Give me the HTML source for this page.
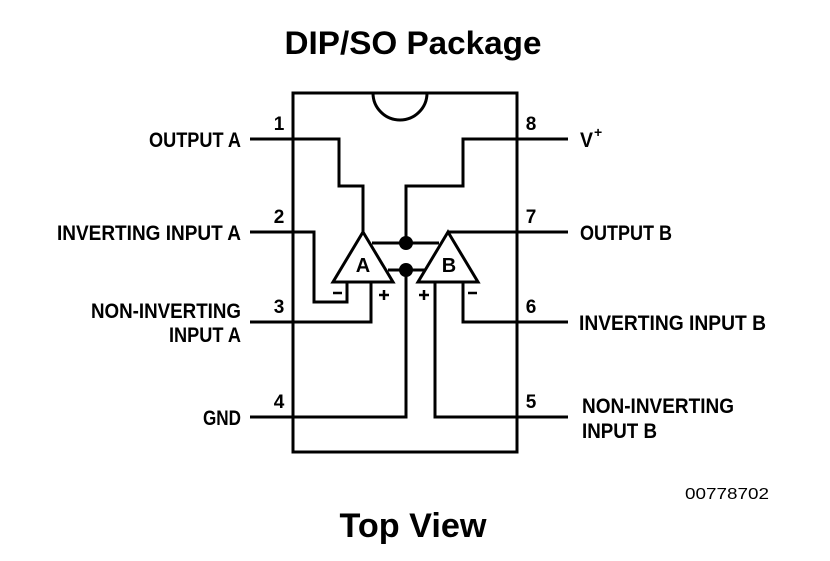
<!DOCTYPE html>
<html><head><style>
html,body{margin:0;padding:0;background:#fff;}
svg{display:block;}
text{font-family:"Liberation Sans",sans-serif;font-weight:bold;fill:#000;}
</style></head><body>
<svg width="830" height="561" viewBox="0 0 830 561" xmlns="http://www.w3.org/2000/svg">
<text x="413" y="54" font-size="32" text-anchor="middle" textLength="257" lengthAdjust="spacingAndGlyphs">DIP/SO Package</text>
<text x="413" y="537" font-size="34" text-anchor="middle" textLength="147" lengthAdjust="spacingAndGlyphs">Top View</text>
<text x="727" y="499" font-size="16" text-anchor="middle" style="font-weight:normal" textLength="84" lengthAdjust="spacingAndGlyphs">00778702</text>
<g fill="none" stroke="#000" stroke-width="3">
<rect x="293" y="93" width="224" height="359"/>
<path d="M373 93 A27 27 0 0 0 427 93"/>
<path d="M250 139H293M250 232H293M250 322H293M250 417H293"/>
<path d="M517 139H568M517 232H568M517 322H568M517 417H568"/>
<path d="M293 139H339V186H363V232"/>
<path d="M517 139H463V186H406V243"/>
<path d="M372 243H439"/>
<path d="M388 270H425"/>
<path d="M406 270V417H293"/>
<path d="M293 232H314V302H347V282"/>
<path d="M293 322H371V282"/>
<path d="M435 282V417H517"/>
<path d="M463 282V322H517"/>
<path d="M448 232H517"/>
<polygon points="363,232 333,282 393,282" fill="#fff"/>
<polygon points="448,232 418,282 478,282" fill="#fff"/>
</g>
<circle cx="406" cy="243" r="7"/>
<circle cx="406" cy="270" r="7"/>
<text x="363" y="272" font-size="20" text-anchor="middle">A</text>
<text x="449" y="272" font-size="20" text-anchor="middle">B</text>
<g stroke="#000" stroke-width="2.5">
<path d="M333 293h9M468 293h9M379 295h10M384 290v10M419 295h10M424 290v10"/>
</g>
<g font-size="21">
<text x="241" y="147" text-anchor="end" textLength="92" lengthAdjust="spacingAndGlyphs">OUTPUT A</text>
<text x="241" y="240" text-anchor="end" textLength="184" lengthAdjust="spacingAndGlyphs">INVERTING INPUT A</text>
<text x="241" y="318" text-anchor="end" textLength="150" lengthAdjust="spacingAndGlyphs">NON-INVERTING</text>
<text x="241" y="342" text-anchor="end" textLength="72" lengthAdjust="spacingAndGlyphs">INPUT A</text>
<text x="241" y="425" text-anchor="end" textLength="38" lengthAdjust="spacingAndGlyphs">GND</text>
<text x="580" y="147" textLength="13" lengthAdjust="spacingAndGlyphs">V</text>
<text x="594" y="137" font-size="14">+</text>
<text x="580" y="240" textLength="92" lengthAdjust="spacingAndGlyphs">OUTPUT B</text>
<text x="579" y="330" textLength="187" lengthAdjust="spacingAndGlyphs">INVERTING INPUT B</text>
<text x="582" y="413" textLength="152" lengthAdjust="spacingAndGlyphs">NON-INVERTING</text>
<text x="582" y="438" textLength="75" lengthAdjust="spacingAndGlyphs">INPUT B</text>
<text x="279" y="130" text-anchor="middle" font-size="19">1</text>
<text x="279" y="223" text-anchor="middle" font-size="19">2</text>
<text x="279" y="313" text-anchor="middle" font-size="19">3</text>
<text x="279" y="408" text-anchor="middle" font-size="19">4</text>
<text x="531" y="130" text-anchor="middle" font-size="19">8</text>
<text x="531" y="223" text-anchor="middle" font-size="19">7</text>
<text x="531" y="313" text-anchor="middle" font-size="19">6</text>
<text x="531" y="408" text-anchor="middle" font-size="19">5</text>
</g>
</svg>
</body></html>
